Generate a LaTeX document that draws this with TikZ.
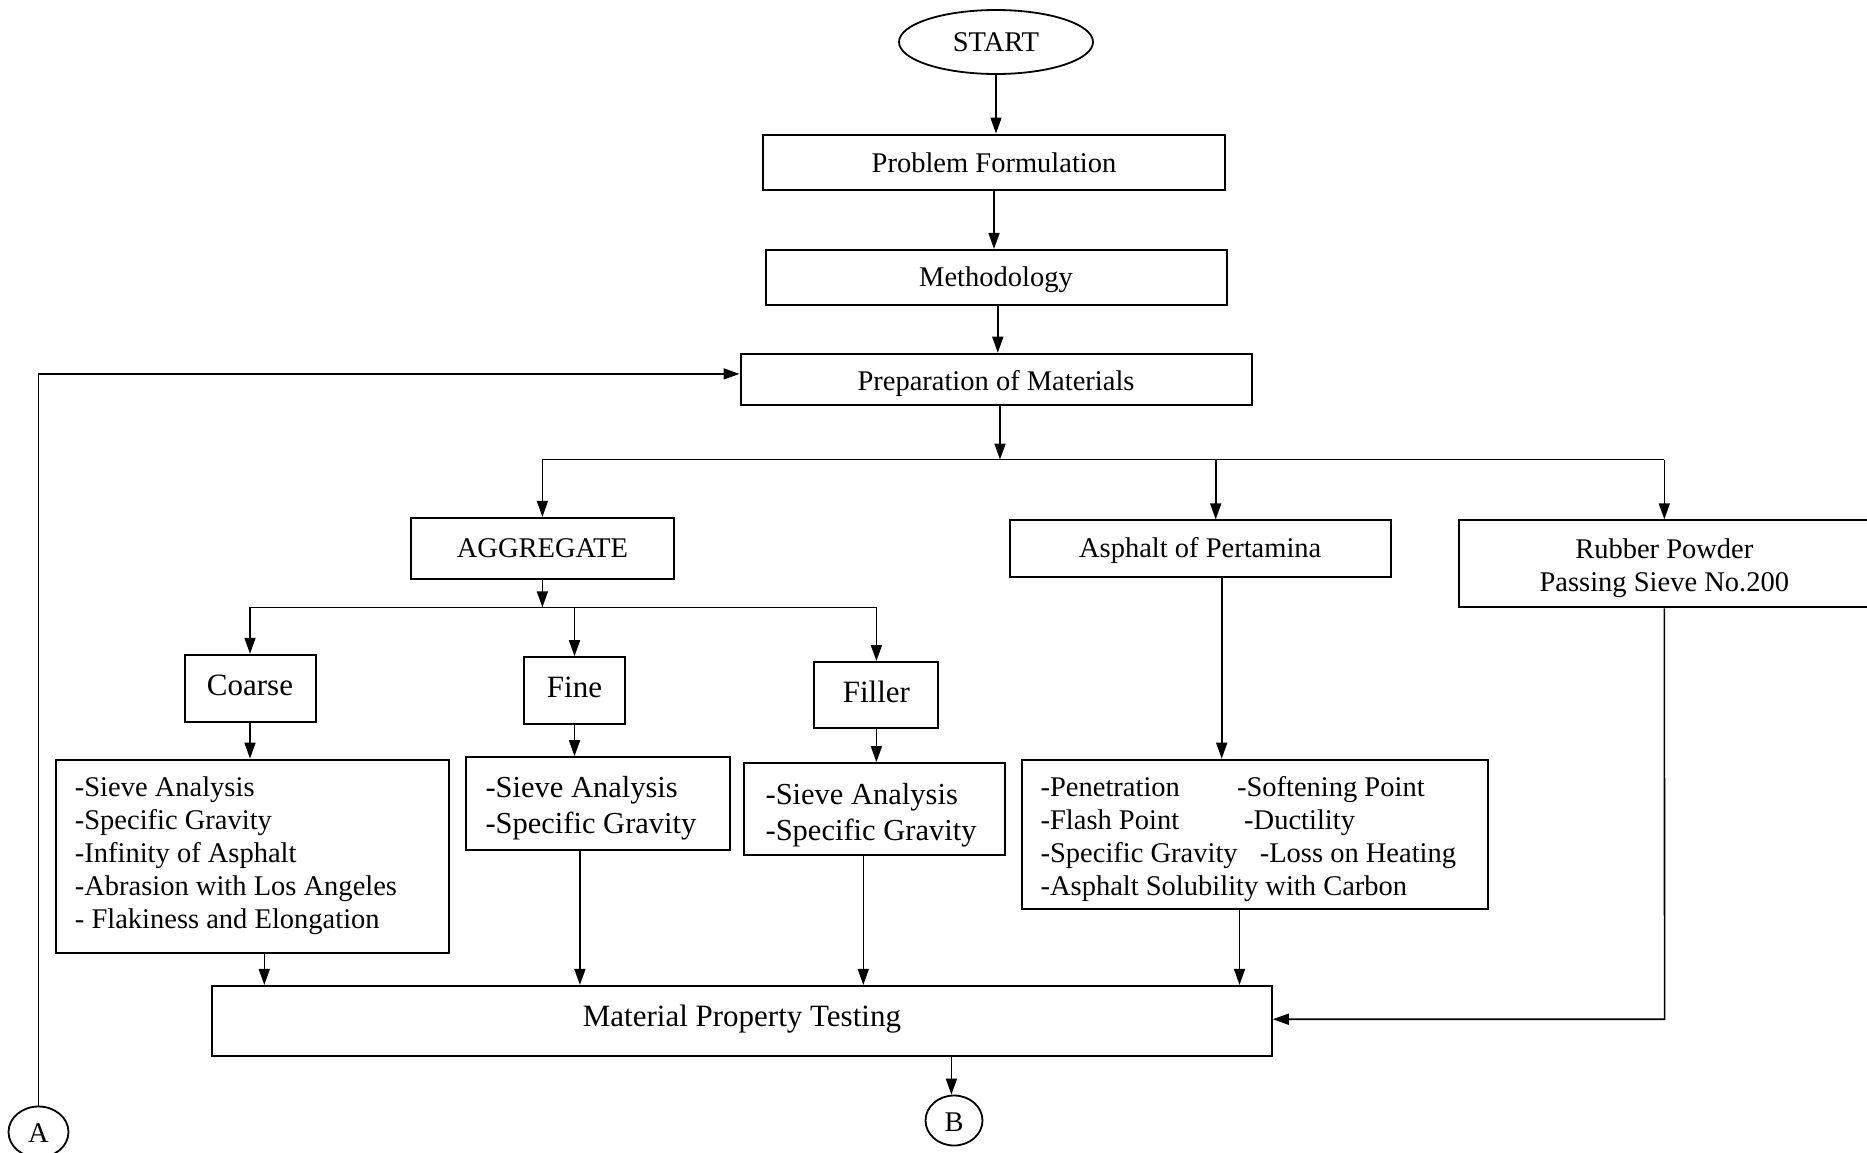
\documentclass[tikz,border=0pt]{standalone}
\usepackage{fontspec}
\setmainfont{Liberation Serif}
\usetikzlibrary{shapes.geometric,arrows.meta}
\newcommand{\myfs}[2]{\fontsize{#1}{#2}\selectfont}
\newcommand{\lns}[2]{\begin{tabular}[t]{@{}#1@{}}#2\end{tabular}}
\begin{document}
\begin{tikzpicture}[x=0.5pt,y=-0.5pt,
  box/.style={draw,line width=1pt,inner sep=0pt,font=\myfs{14.25}{16.7}},
  bigbox/.style={box,font=\myfs{15.5}{18}},
  listbox/.style={draw,line width=1pt,inner ysep=0pt,font=\myfs{14.25}{16.5}},
  ell/.style={draw,ellipse,line width=0.9pt,inner sep=0pt,font=\myfs{14.25}{16.7}},
  bl/.style={text height=#1pt,text depth=0pt},
  tl/.style={text height=0pt,text depth=#1pt},
  ln/.style={line width=0.8pt},
  arr/.style={ln,-{Triangle[length=8pt,width=5.5pt]}}]
\useasboundingbox (0,0) rectangle (1867,1152);

% nodes
\node[ell,bl=9.2,minimum width=97pt,minimum height=32pt] (start) at (996,42) {START};
\node[box,bl=10.6,minimum width=231pt,minimum height=27.5pt] (pf) at (994,162) {Problem Formulation};
\node[box,bl=9.2,minimum width=230.5pt,minimum height=27.5pt] (meth) at (996,277.4) {Methodology};
\node[box,bl=10.8,minimum width=255.5pt,minimum height=25.5pt] (prep) at (996,379.2) {Preparation of Materials};
\node[box,bl=9,minimum width=131.5pt,minimum height=30.4pt] (agg) at (542.4,548.3) {AGGREGATE};
\node[box,bl=8.5,minimum width=190.5pt,minimum height=28.5pt] (asph) at (1200.2,548.9) {Asphalt of Pertamina};
\node[box,tl=5.5,minimum width=205.7pt,minimum height=43.5pt] (rubber) at (1664.3,563.8)
  {\lns{c}{Rubber Powder\\Passing Sieve No.200}};
\node[bigbox,bl=7.6,minimum width=65.5pt,minimum height=33.4pt] (coarse) at (250,688.2) {Coarse};
\node[bigbox,bl=7,minimum width=50.6pt,minimum height=33.4pt] (fine) at (574.5,690.6) {Fine};
\node[bigbox,bl=7.2,minimum width=62pt,minimum height=32.8pt] (filler) at (876.4,694.8) {Filler};

\node[listbox,tl=59.8,inner xsep=9.5pt,minimum width=196.5pt,minimum height=96.5pt] (clist) at (252.4,856.1)
  {\makebox[177.5pt][l]{\lns{l}{-Sieve Analysis\\-Specific Gravity\\-Infinity of Asphalt\\-Abrasion with Los Angeles\\- Flakiness and Elongation}}};
\node[listbox,tl=5.8,inner xsep=10pt,minimum width=132.2pt,minimum height=46.5pt,font=\myfs{15.25}{17.7}] (flist) at (597.7,803.7)
  {\makebox[112.2pt][l]{\lns{l}{-Sieve Analysis\\-Specific Gravity}}};
\node[listbox,tl=4.1,inner xsep=10.7pt,minimum width=130.4pt,minimum height=45.9pt,font=\myfs{15.25}{17.8}] (filist) at (874.6,809)
  {\makebox[109pt][l]{\lns{l}{-Sieve Analysis\\-Specific Gravity}}};
\node[listbox,tl=37.8,inner xsep=9.5pt,minimum width=233.4pt,minimum height=74.4pt] (alist) at (1255,834.1)
  {\makebox[214.4pt][l]{\lns{l}{\makebox[98.2pt][l]{-Penetration}-Softening Point\\
   \makebox[101.8pt][l]{-Flash Point}-Ductility\\
   \makebox[109.6pt][l]{-Specific Gravity}-Loss on Heating\\
   -Asphalt Solubility with Carbon}}};
\node[bigbox,bl=5.5,minimum width=529.9pt,minimum height=35.1pt] (mpt) at (741.9,1021) {Material Property Testing};
\node[ell,bl=10.6,minimum width=28.5pt,minimum height=25pt] (B) at (954,1120.5) {B};
\node[ell,bl=10.5,minimum width=30pt,minimum height=25.5pt] (A) at (38.5,1132) {A};

% coordinates
\coordinate (b1) at (1000,459.6);
\coordinate (b1a) at (1215.7,459.6);
\coordinate (b2) at (541.8,607.3);
\coordinate (mx) at (997.8,300);
\coordinate (ax) at (1221.7,600);
\coordinate (cx) at (264.3,960);
\coordinate (fx) at (579.9,960);
\coordinate (fix) at (863.3,960);
\coordinate (alx) at (1239.5,960);
\coordinate (rj) at (1664.6,1019.2);
\coordinate (bx) at (951.4,1070);
\coordinate (ac) at (39.3,373.9);

% connectors
\draw[arr] (start.south) -- (start.south |- pf.north);
\draw[arr] (pf.south) -- (pf.south |- meth.north);
\draw[arr] (meth.south -| mx) -- (prep.north -| mx);
\draw[arr] (prep.south -| b1) -- (b1);
\draw[ln] (b1 -| agg) -- (b1 -| rubber);
\draw[arr] (b1 -| agg) -- (agg.north);
\draw[arr] (b1a) -- (b1a |- asph.north);
\draw[arr] (b1 -| rubber) -- (rubber.north);

\draw[arr] (agg.south) -- (agg.south |- b2);
\draw[ln] (b2 -| coarse) -- (b2 -| filler);
\draw[arr] (b2 -| coarse) -- (coarse.north);
\draw[arr] (b2 -| fine) -- (fine.north);
\draw[arr] (b2 -| filler) -- (filler.north);

\draw[arr] (coarse.south) -- (coarse.south |- clist.north);
\draw[arr] (fine.south) -- (fine.south |- flist.north);
\draw[arr] (filler.south) -- (filler.south |- filist.north);
\draw[arr] (asph.south -| ax) -- (alist.north -| ax);

\draw[arr] (clist.south -| cx) -- (mpt.north -| cx);
\draw[arr] (flist.south -| fx) -- (mpt.north -| fx);
\draw[arr] (filist.south -| fix) -- (mpt.north -| fix);
\draw[arr] (alist.south -| alx) -- (mpt.north -| alx);
\draw[arr] (rubber.south) -- (rj) -- (rj -| mpt.east);
\draw[arr] (mpt.south -| bx) -- (bx |- B.north);
\draw[arr] (A.north) -- (A.north |- ac) -- (ac -| prep.west);
\end{tikzpicture}
\end{document}
